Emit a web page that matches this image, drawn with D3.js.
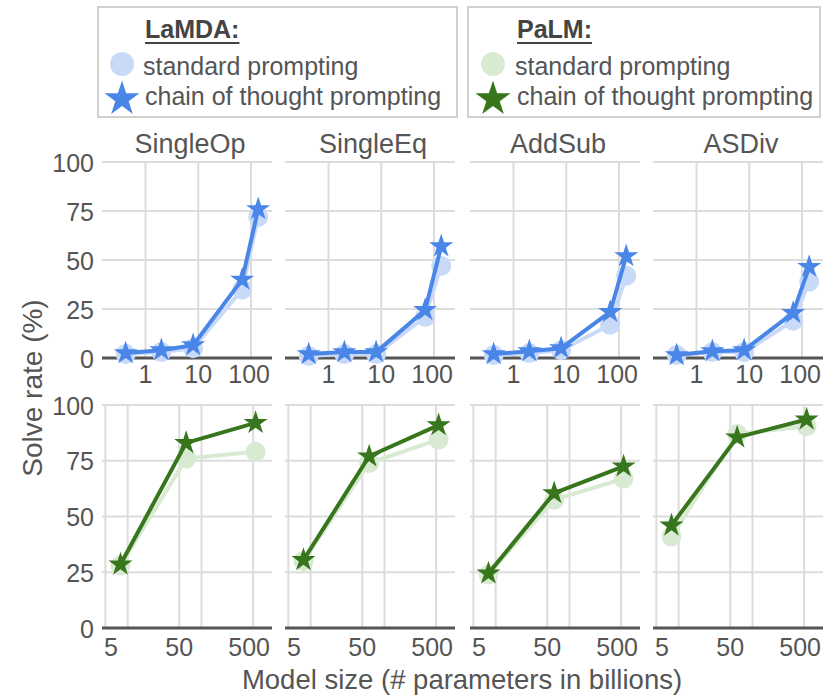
<!DOCTYPE html>
<html><head><meta charset="utf-8">
<script src="https://cdn.jsdelivr.net/npm/d3@7"></script>
<style>
html,body{margin:0;padding:0;background:#fff;}
text{font-family:"Liberation Sans",Arial,Helvetica,sans-serif;fill:#555;}
</style></head>
<body><svg id="c" width="823" height="697"></svg>
<script>
// ---- data ----
const datasets = ["SingleOp", "SingleEq", "AddSub", "ASDiv"];
const lamdaSizes = [0.422, 2, 8, 68, 137];
const palmSizes = [8, 62, 540];
const lamdaStandard = [
  [2, 3, 5, 35, 72],
  [1, 2, 2, 21, 47],
  [1.5, 2.5, 4, 17, 42],
  [1.5, 3, 3, 19, 39]
];
const lamdaCoT = [
  [2.5, 4, 6.5, 40, 76],
  [2, 3, 3, 24.5, 57],
  [2, 3.5, 5, 23.5, 52],
  [1.5, 3.5, 4, 23, 46.5]
];
const palmStandard = [
  [28, 76, 79],
  [30, 74, 84.5],
  [24, 57.5, 67],
  [41, 87, 90.5]
];
const palmCoT = [
  [28.5, 83, 92],
  [30.5, 77, 91],
  [24.5, 60.5, 72.5],
  [46, 85.5, 93.5]
];
const yTicks = [0, 25, 50, 75, 100];
const lamdaTickLabels = [1, 10, 100];
const lamdaGrid = [1, 10, 100];
const palmTickLabels = [5, 50, 500];
const palmGrid = [5, 10, 50, 100, 500];

// ---- styles ----
const blue = "#4a86e8", lightBlue = "#c9daf8";
const green = "#38761d", lightGreen = "#d9ead3";
const gridColor = "#dcdcdc", baseColor = "#555";

const svg = d3.select("#c");
const panelLefts = [102, 285, 470, 653];
const panelW = 170;
const topY = [162, 358], botY = [405, 628];

const yTop = d3.scaleLinear().domain([0, 100]).range([topY[1], topY[0]]);
const yBot = d3.scaleLinear().domain([0, 100]).range([botY[1], botY[0]]);

const star = d3.symbol().type(d3.symbolStar);

function panel(i, row) {
  const left = panelLefts[i];
  const isTop = row === 0;
  const x = d3.scaleLog()
    .domain(isTop ? [0.15, 250] : [4.5, 900])
    .range([left, left + panelW]);
  const y = isTop ? yTop : yBot;
  const g = svg.append("g");
  g.selectAll("line.h").data(yTicks.filter(t => t > 0)).enter().append("line")
    .attr("x1", left).attr("x2", left + panelW)
    .attr("y1", d => y(d)).attr("y2", d => y(d))
    .attr("stroke", gridColor).attr("stroke-width", 2);
  g.selectAll("line.v").data(isTop ? lamdaGrid : palmGrid).enter().append("line")
    .attr("x1", d => x(d)).attr("x2", d => x(d))
    .attr("y1", y(100)).attr("y2", y(0))
    .attr("stroke", gridColor).attr("stroke-width", 2);
  g.append("line").attr("x1", left).attr("x2", left + panelW)
    .attr("y1", y(0)).attr("y2", y(0)).attr("stroke", baseColor).attr("stroke-width", 3);
  const labs = g.selectAll("text.xt").data(isTop ? lamdaTickLabels : palmTickLabels).enter().append("text")
    .attr("y", isTop ? 383 : 656)
    .attr("font-size", 25).attr("text-anchor", "middle")
    .text(d => d);
  labs.each(function(d) {
    const w = this.getComputedTextLength();
    let cx = x(d);
    cx = Math.max(cx, left + w / 2 + 2);
    cx = Math.min(cx, left + panelW - w / 2 - 2);
    d3.select(this).attr("x", cx);
  });
  if (i === 0) {
    g.selectAll("text.yt").data(yTicks).enter().append("text")
      .attr("x", 94).attr("y", d => y(d)).attr("dy", "0.38em")
      .attr("font-size", 25).attr("text-anchor", "end").text(d => d);
  }
  const sizes = isTop ? lamdaSizes : palmSizes;
  const std = isTop ? lamdaStandard[i] : palmStandard[i];
  const cot = isTop ? lamdaCoT[i] : palmCoT[i];
  const dark = isTop ? blue : green, light = isTop ? lightBlue : lightGreen;
  const line = d3.line().x(d => x(d[0])).y(d => y(d[1]));
  const sPts = sizes.map((s, k) => [s, std[k]]);
  const cPts = sizes.map((s, k) => [s, cot[k]]);
  g.append("path").attr("d", line(sPts)).attr("fill", "none")
    .attr("stroke", light).attr("stroke-width", 4).attr("stroke-linejoin", "round");
  g.selectAll("circle.s").data(sPts).enter().append("circle")
    .attr("cx", d => x(d[0])).attr("cy", d => y(d[1])).attr("r", 10).attr("fill", light);
  g.append("path").attr("d", line(cPts)).attr("fill", "none")
    .attr("stroke", dark).attr("stroke-width", 4).attr("stroke-linejoin", "round");
  g.selectAll("path.st").data(cPts).enter().append("path")
    .attr("d", star.size(180)())
    .attr("transform", d => `translate(${x(d[0])},${y(d[1])})`)
    .attr("fill", dark);
  if (isTop) {
    svg.append("text").attr("x", left + panelW / 2 + 3).attr("y", 153)
      .attr("font-size", 27).attr("text-anchor", "middle").text(datasets[i]);
  }
}
for (let i = 0; i < 4; i++) { panel(i, 0); panel(i, 1); }

svg.append("text").attr("x", 462).attr("y", 689).attr("text-anchor", "middle")
  .attr("font-size", 27.5).text("Model size (# parameters in billions)");
svg.append("text").attr("transform", "translate(42,388) rotate(-90)")
  .attr("text-anchor", "middle").attr("font-size", 28).text("Solve rate (%)");

const legends = [
  {box: [98, 7, 359, 110], title: "LaMDA:", mx: 122, tx: 143, dark: blue, light: lightBlue},
  {box: [468, 7, 352, 110], title: "PaLM:", mx: 493, tx: 515, dark: green, light: lightGreen}
];
const legendLabels = ["standard prompting", "chain of thought prompting"];
legends.forEach(L => {
  const g = svg.append("g");
  g.append("rect").attr("x", L.box[0]).attr("y", L.box[1]).attr("width", L.box[2]).attr("height", L.box[3])
    .attr("fill", "#fff").attr("stroke", "#d0d0d0").attr("stroke-width", 2);
  const t = g.append("text").attr("x", L.tx + 2).attr("y", 38).attr("font-size", 25)
    .attr("font-weight", "bold").style("fill", "#444").text(L.title);
  const w = t.node().getComputedTextLength();
  g.append("line").attr("x1", L.tx + 2).attr("x2", L.tx + 2 + w).attr("y1", 43).attr("y2", 43)
    .attr("stroke", "#444").attr("stroke-width", 2);
  g.append("circle").attr("cx", L.mx).attr("cy", 64).attr("r", 12).attr("fill", L.light);
  g.append("path").attr("d", star.size(380)()).attr("transform", `translate(${L.mx},${99})`).attr("fill", L.dark);
  g.append("text").attr("x", L.tx).attr("y", 75).attr("font-size", 25).text(legendLabels[0]);
  g.append("text").attr("x", L.tx + 2).attr("y", 105).attr("font-size", 25).text(legendLabels[1]);
});
</script></body></html>
